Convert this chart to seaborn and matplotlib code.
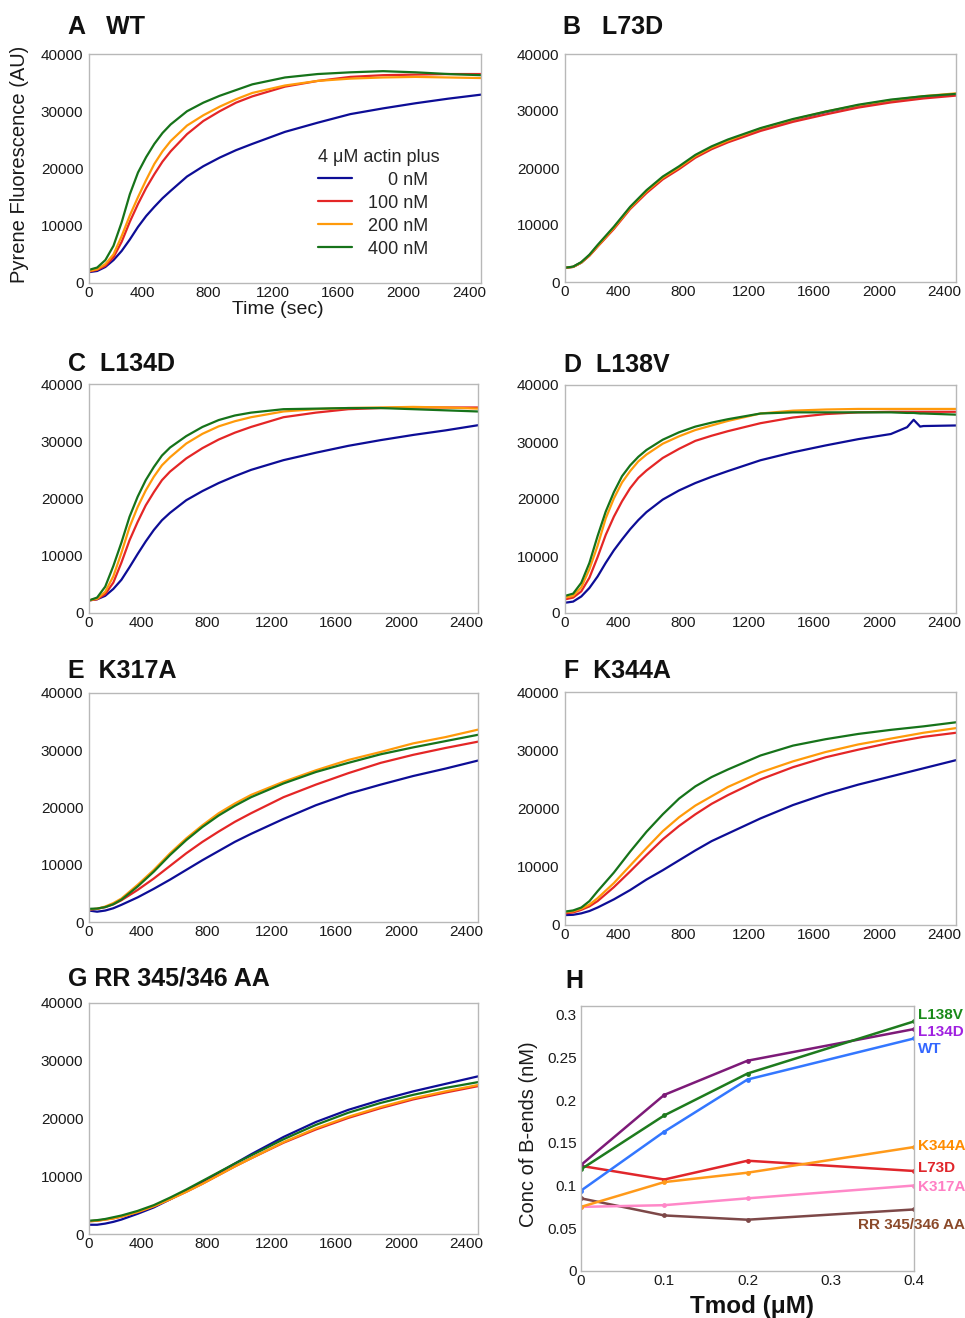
"""
Tmod mutants: pyrene-actin polymerization traces (A-G) and barbed-end
concentration versus Tmod (H). Values read off the published figure.
"""

import matplotlib
matplotlib.use("Agg")
import matplotlib.pyplot as plt
import matplotlib.transforms as mtransforms
import pandas as pd
import seaborn as sns
from matplotlib.ticker import MultipleLocator, FuncFormatter

# ---- time-course data (pyrene fluorescence, AU) ----
# fast panels (A, C) are read on a finer grid through the lag phase
time_fast = [0, 50, 100, 150, 200, 250, 300, 350, 400, 450, 500, 600, 700, 800,
             900, 1000, 1200, 1400, 1600, 1800, 2000, 2200, 2400]
# L138V has a small spike near 2140 s in the 0 nM trace
time_d = [0, 50, 100, 150, 200, 250, 300, 350, 400, 450, 500, 600, 700, 800,
          900, 1000, 1200, 1400, 1600, 1800, 2000, 2100, 2140, 2180, 2200, 2400]
time_slow = [0, 50, 100, 150, 200, 300, 400, 500, 600, 700, 800, 900, 1000,
             1200, 1400, 1600, 1800, 2000, 2200, 2400]
tmod_levels = ["0 nM", "100 nM", "200 nM", "400 nM"]

wt_0nm = [1900, 2100, 2800, 4000, 5600, 7600, 9800, 11700, 13300, 14800, 16100, 18600, 20400, 21900, 23200, 24300, 26400, 28000, 29500, 30500, 31400, 32200, 32900]
wt_100nm = [2000, 2300, 3000, 4500, 7200, 10700, 13800, 16600, 19000, 21200, 23000, 26000, 28300, 30000, 31500, 32600, 34300, 35300, 36000, 36300, 36400, 36500, 36500]
wt_200nm = [2100, 2400, 3300, 5000, 8200, 11800, 15000, 18000, 20800, 23000, 24800, 27500, 29300, 30800, 32100, 33200, 34500, 35300, 35700, 35900, 36000, 35900, 35800]
wt_400nm = [2300, 2700, 4000, 6500, 10600, 15500, 19300, 22000, 24300, 26200, 27700, 30000, 31500, 32700, 33700, 34700, 35900, 36500, 36800, 37000, 36800, 36500, 36300]

l73d_0nm = [2500, 2650, 3400, 4700, 6300, 9500, 13000, 15900, 18300, 20100, 22100, 23600, 24800, 26800, 28400, 29800, 30900, 31800, 32500, 32900]
l73d_100nm = [2500, 2650, 3400, 4600, 6200, 9300, 12800, 15600, 18000, 19800, 21800, 23300, 24500, 26500, 28100, 29400, 30600, 31500, 32200, 32700]
l73d_200nm = [2500, 2650, 3400, 4700, 6300, 9500, 13000, 15900, 18300, 20100, 22100, 23600, 24800, 26900, 28500, 29900, 31000, 31900, 32600, 33100]
l73d_400nm = [2500, 2700, 3500, 4800, 6500, 9700, 13200, 16100, 18500, 20300, 22300, 23800, 25000, 27000, 28600, 29900, 31100, 32000, 32600, 33000]

l134d_0nm = [2200, 2400, 3000, 4200, 5800, 8000, 10300, 12500, 14500, 16200, 17500, 19700, 21300, 22700, 23900, 25000, 26700, 28000, 29200, 30200, 31100, 31900, 32800]
l134d_100nm = [2200, 2400, 3300, 5300, 8800, 12700, 15900, 18800, 21100, 23200, 24700, 27000, 28800, 30300, 31500, 32500, 34200, 35000, 35600, 35800, 35900, 35900, 35900]
l134d_200nm = [2200, 2500, 3700, 6400, 10500, 15000, 18500, 21400, 23800, 25800, 27200, 29600, 31300, 32600, 33500, 34200, 35200, 35600, 35800, 35900, 36000, 35900, 35700]
l134d_400nm = [2200, 2700, 4600, 8200, 12300, 16800, 20300, 23200, 25500, 27500, 28900, 30900, 32500, 33700, 34500, 35000, 35600, 35700, 35800, 35800, 35600, 35400, 35200]

l138v_0nm = [1800, 2000, 2900, 4400, 6400, 8800, 11000, 12900, 14700, 16300, 17700, 19900, 21500, 22800, 23900, 24900, 26800, 28200, 29400, 30500, 31400, 32600, 33900, 32700, 32800, 32900]
l138v_100nm = [2400, 2700, 3800, 6200, 9800, 13700, 16900, 19600, 21900, 23700, 25000, 27200, 28800, 30200, 31100, 31900, 33300, 34300, 34900, 35200, 35300, 35300, 35300, 35300, 35300, 35300]
l138v_200nm = [2700, 3000, 4500, 7700, 11800, 16600, 20100, 22900, 24900, 26600, 27800, 29700, 31000, 32100, 32900, 33700, 35000, 35500, 35700, 35800, 35800, 35800, 35800, 35800, 35800, 35800]
l138v_400nm = [3000, 3400, 5300, 8800, 13500, 17800, 21200, 24000, 25900, 27400, 28600, 30400, 31700, 32700, 33400, 34000, 35000, 35200, 35200, 35200, 35200, 35100, 35100, 35000, 35000, 34800]

k317a_0nm = [2000, 1800, 2000, 2400, 3000, 4300, 5800, 7400, 9100, 10800, 12400, 14000, 15400, 18000, 20400, 22400, 24000, 25500, 26800, 28200]
k317a_100nm = [2200, 2300, 2600, 3100, 3800, 5600, 7600, 9800, 12000, 14000, 15800, 17500, 19000, 21800, 24000, 26000, 27800, 29200, 30400, 31500]
k317a_200nm = [2200, 2300, 2700, 3300, 4100, 6500, 9100, 12000, 14600, 16900, 19000, 20700, 22200, 24500, 26500, 28300, 29700, 31200, 32300, 33600]
k317a_400nm = [2300, 2350, 2600, 3100, 3900, 6200, 8800, 11700, 14300, 16600, 18600, 20300, 21800, 24200, 26200, 27800, 29300, 30500, 31600, 32700]

k344a_0nm = [1700, 1750, 2000, 2400, 3000, 4400, 6000, 7800, 9400, 11100, 12800, 14400, 15700, 18300, 20600, 22500, 24100, 25500, 26900, 28300]
k344a_100nm = [2000, 2150, 2600, 3200, 4100, 6500, 9200, 12000, 14700, 17000, 19000, 20800, 22300, 25000, 27100, 28800, 30100, 31300, 32300, 33000]
k344a_200nm = [2200, 2350, 2800, 3500, 4600, 7200, 10200, 13200, 16100, 18500, 20500, 22100, 23700, 26200, 28100, 29700, 31000, 32000, 33000, 33800]
k344a_400nm = [2300, 2500, 3000, 4100, 5800, 9000, 12600, 16000, 19000, 21700, 23800, 25400, 26700, 29100, 30800, 31900, 32800, 33500, 34100, 34800]

rr_0nm = [1600, 1600, 1800, 2100, 2500, 3500, 4600, 6000, 7500, 9000, 10600, 12200, 13800, 16800, 19400, 21500, 23200, 24700, 26000, 27300]
rr_100nm = [2200, 2300, 2500, 2700, 3000, 3800, 4800, 6000, 7300, 8700, 10200, 11700, 13100, 15800, 18100, 20100, 21800, 23300, 24500, 25600]
rr_200nm = [2200, 2300, 2500, 2700, 3000, 3800, 4800, 6000, 7300, 8700, 10200, 11700, 13100, 15900, 18300, 20300, 22000, 23500, 24700, 25800]
rr_400nm = [2300, 2400, 2600, 2900, 3200, 4000, 5000, 6300, 7700, 9200, 10700, 12200, 13600, 16400, 18900, 21000, 22700, 24100, 25300, 26300]

# ---- panel H data ----
tmod_um = [0, 0.1, 0.2, 0.4]
mutant_names = ["RR 345/346 AA", "K317A", "L73D", "K344A", "WT", "L134D", "L138V"]
bends_rr = [0.085, 0.065, 0.060, 0.072]
bends_k317a = [0.075, 0.077, 0.085, 0.100]
bends_l73d = [0.123, 0.107, 0.129, 0.117]
bends_k344a = [0.075, 0.104, 0.115, 0.145]
bends_wt = [0.094, 0.163, 0.224, 0.272]
bends_l134d = [0.124, 0.206, 0.246, 0.283]
bends_l138v = [0.119, 0.182, 0.231, 0.292]

# ---- styling ----
trace_colors = dict(zip(tmod_levels, ["#0d0d96", "#e42626", "#ff9a0a", "#16731a"]))
line_colors = {"RR 345/346 AA": "#7d4848", "K317A": "#ff88c8", "L73D": "#e0262b",
               "K344A": "#ff9a1a", "WT": "#3377ff", "L134D": "#7d1a78", "L138V": "#1e7b1e"}
label_colors = {"RR 345/346 AA": "#8b4a2a", "K317A": "#ff7fc4", "L73D": "#e0262b",
                "K344A": "#ff8c00", "WT": "#3366ff", "L134D": "#a020e0", "L138V": "#1a8a1a"}
# y position (data units) of the end labels in panel H
label_y = {"L138V": 0.299, "L134D": 0.280, "WT": 0.260, "K344A": 0.146,
           "L73D": 0.120, "K317A": 0.098, "RR 345/346 AA": 0.054}

SPINE = "#b8b8b8"
W, H = 965, 1318

sns.set_theme(style="white")
plt.rcParams["font.family"] = ["Liberation Sans", "DejaVu Sans"]


def px_rect(left, top, right, bottom):
    return [left / W, 1 - bottom / H, (right - left) / W, (bottom - top) / H]


def style_frame(ax):
    for sp in ax.spines.values():
        sp.set_visible(True)
        sp.set_color(SPINE)
        sp.set_linewidth(1.0)


def draw_traces(ax, times, series):
    rows = []
    for level, values in zip(tmod_levels, series):
        for t, v in zip(times, values):
            rows.append({"time": t, "signal": v, "tmod": level})
    df = pd.DataFrame(rows)
    sns.lineplot(data=df, x="time", y="signal", hue="tmod", hue_order=tmod_levels,
                 palette=trace_colors, estimator=None, sort=False, linewidth=1.6,
                 legend=False, ax=ax)
    ax.set_xlim(0, 2400)
    ax.set_ylim(0, 40000)
    ax.set_xticks(range(0, 2401, 400))
    ax.set_yticks(range(0, 40001, 10000))
    ax.yaxis.set_minor_locator(MultipleLocator(5000))
    ax.set_xlabel("")
    ax.set_ylabel("")
    style_frame(ax)
    ax.tick_params(axis="both", which="both", color=SPINE, labelsize=11,
                   labelcolor="#1a1a1a")
    ax.tick_params(axis="y", which="major", length=2, direction="out", pad=2)
    ax.tick_params(axis="y", which="minor", length=3, direction="out")
    ax.tick_params(axis="x", which="major", length=3, direction="in", pad=2)
    # KaleidaGraph-style: x labels sit a bit left of their tick
    shift = mtransforms.ScaledTranslation(-0.12, 0, ax.figure.dpi_scale_trans)
    for i, lbl in enumerate(ax.get_xticklabels()):
        if i > 0:
            lbl.set_transform(lbl.get_transform() + shift)


fig = plt.figure(figsize=(W / 100, H / 100), dpi=100)

panels = [
    ("A   WT", (89, 54, 481, 283), (68, 27), time_fast, [wt_0nm, wt_100nm, wt_200nm, wt_400nm]),
    ("B   L73D", (565, 54, 956, 282), (563, 27), time_slow, [l73d_0nm, l73d_100nm, l73d_200nm, l73d_400nm]),
    ("C  L134D", (89, 384, 478, 613), (68, 364), time_fast, [l134d_0nm, l134d_100nm, l134d_200nm, l134d_400nm]),
    ("D  L138V", (565, 385, 956, 613), (564, 365), time_d, [l138v_0nm, l138v_100nm, l138v_200nm, l138v_400nm]),
    ("E  K317A", (89, 693, 478, 922), (68, 671), time_slow, [k317a_0nm, k317a_100nm, k317a_200nm, k317a_400nm]),
    ("F  K344A", (565, 692, 956, 925), (564, 671), time_slow, [k344a_0nm, k344a_100nm, k344a_200nm, k344a_400nm]),
    ("G RR 345/346 AA", (89, 1003, 478, 1234), (68, 979), time_slow, [rr_0nm, rr_100nm, rr_200nm, rr_400nm]),
]

axes = []
for title, box, title_pos, times, series in panels:
    ax = fig.add_axes(px_rect(*box))
    draw_traces(ax, times, series)
    fig.text(title_pos[0] / W, 1 - title_pos[1] / H, title, fontsize=18,
             fontweight="bold", va="center", ha="left", color="#111111")
    axes.append(ax)

# panel A extras: axis labels and legend
ax_a = axes[0]
fig.text(20 / W, 1 - 164 / H, "Pyrene Fluorescence (AU)", rotation=90,
         fontsize=14.5, va="center", ha="center", color="#1a1a1a")
fig.text(278 / W, 1 - 310 / H, "Time (sec)", fontsize=14, va="center",
         ha="center", color="#1a1a1a")
handles = ax_a.get_lines()[:4]
leg_labels = ["    0 nM", "100 nM", "200 nM", "400 nM"]
ax_a.legend(handles, leg_labels, title="4 \u03bcM actin plus", frameon=False,
            loc="upper left", bbox_to_anchor=(0.584, 0.586), alignment="left",
            fontsize=13, title_fontsize=13, handlelength=1.9, handletextpad=0.9,
            labelspacing=0.33, borderpad=0, borderaxespad=0)

# ---- panel H ----
ax_h = fig.add_axes(px_rect(581, 1006, 914, 1271))
bend_series = [bends_rr, bends_k317a, bends_l73d, bends_k344a, bends_wt,
               bends_l134d, bends_l138v]
rows = []
for name, values in zip(mutant_names, bend_series):
    for x, v in zip(tmod_um, values):
        rows.append({"tmod": x, "bends": v, "mutant": name})
df_h = pd.DataFrame(rows)
sns.lineplot(data=df_h, x="tmod", y="bends", hue="mutant", hue_order=mutant_names,
             palette=line_colors, estimator=None, sort=False, linewidth=1.8,
             marker="o", markersize=3.5, markeredgewidth=0, legend=False, ax=ax_h)
ax_h.set_xlim(0, 0.4)
ax_h.set_ylim(0, 0.31)
ax_h.set_xticks([0, 0.1, 0.2, 0.3, 0.4])
ax_h.set_yticks([0, 0.05, 0.1, 0.15, 0.2, 0.25, 0.3])
fmt = FuncFormatter(lambda v, pos: f"{v:g}")
ax_h.xaxis.set_major_formatter(fmt)
ax_h.yaxis.set_major_formatter(fmt)
style_frame(ax_h)
ax_h.tick_params(axis="both", color=SPINE, labelsize=11, labelcolor="#1a1a1a")
ax_h.tick_params(axis="y", length=3, direction="in", pad=3)
ax_h.tick_params(axis="x", length=3, direction="in", pad=2)
ax_h.set_xlabel("")
ax_h.set_ylabel("")
fig.text(528 / W, 1 - 1134 / H, "Conc of B-ends (nM)", rotation=90,
         fontsize=14.5, va="center", ha="center", color="#1a1a1a")
fig.text(752 / W, 1 - 1306 / H, "Tmod (\u03bcM)", fontsize=17.5,
         fontweight="bold", va="center", ha="center", color="#111111")
fig.text(565 / W, 1 - 981 / H, "H", fontsize=18, fontweight="bold",
         va="center", ha="left", color="#111111")

for name in mutant_names:
    if name == "RR 345/346 AA":
        ax_h.text(1.153, label_y[name], name, transform=ax_h.get_yaxis_transform(),
                  ha="right", va="center", fontsize=11, fontweight="bold",
                  color=label_colors[name], clip_on=False)
    else:
        ax_h.text(1.012, label_y[name], name, transform=ax_h.get_yaxis_transform(),
                  ha="left", va="center", fontsize=11, fontweight="bold",
                  color=label_colors[name], clip_on=False)

fig.savefig("out.png", dpi=100)
